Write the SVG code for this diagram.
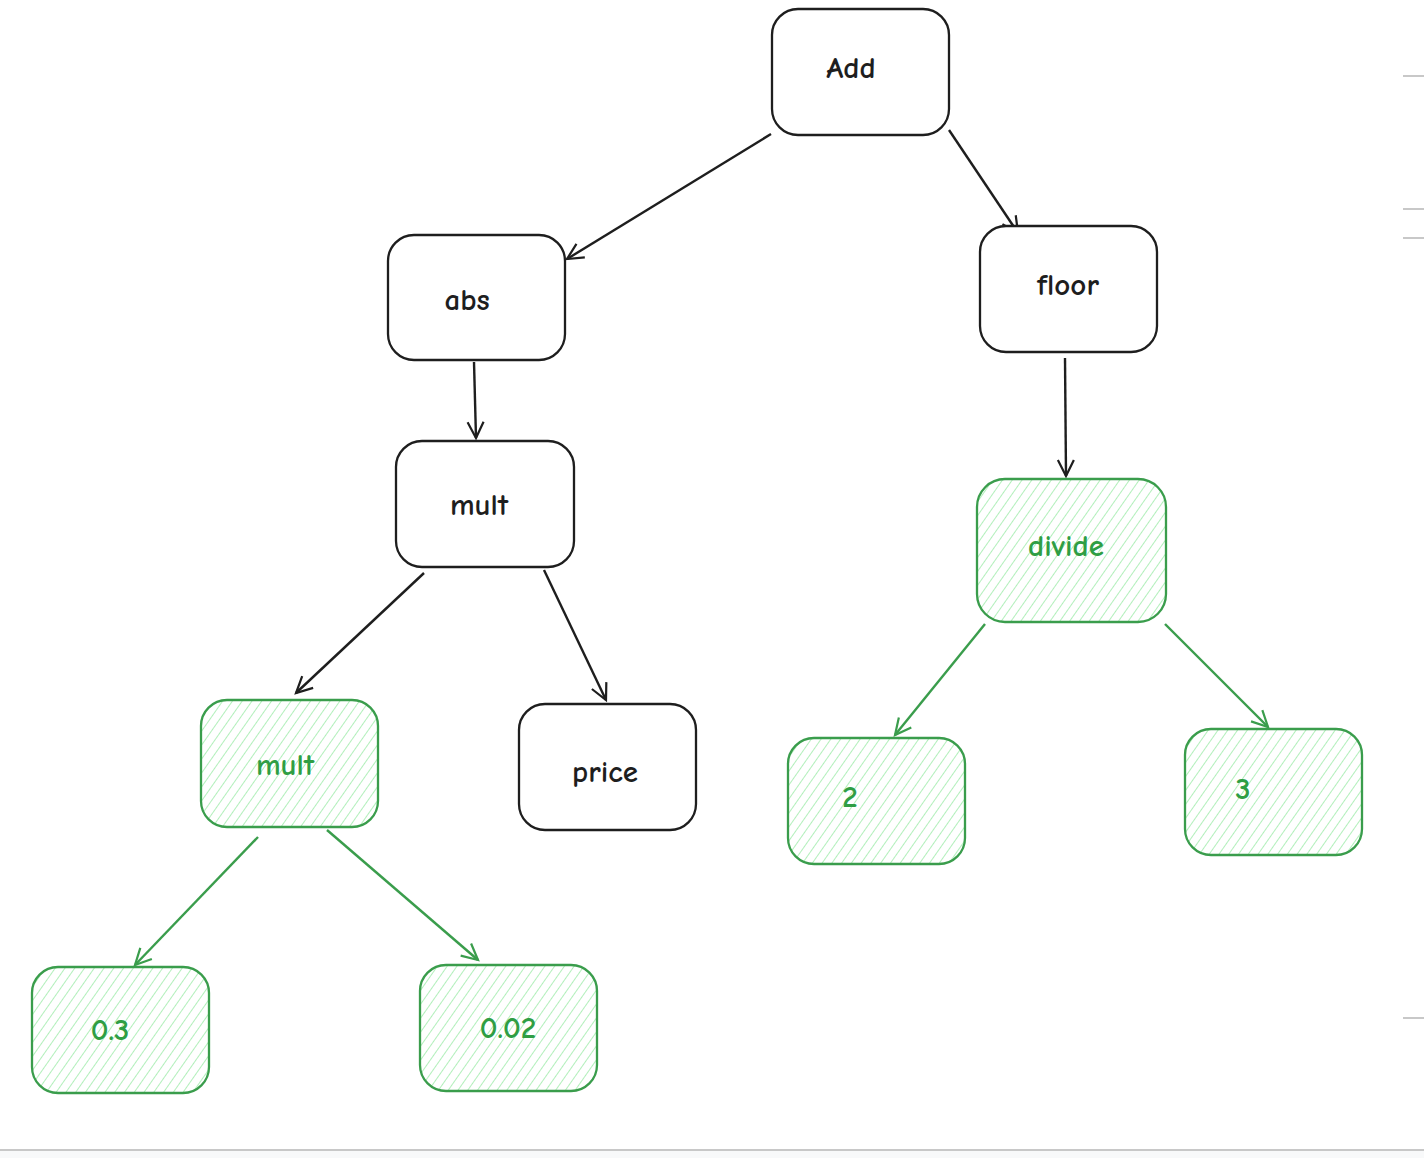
<svg xmlns="http://www.w3.org/2000/svg" width="1424" height="1158" viewBox="0 0 1424 1158">
<style>
.box{fill:#fff;stroke:#1e1e1e;stroke-width:2.3}
.gbox{fill:url(#hatch);stroke:#3a9d4c;stroke-width:2.3}
.t{font-family:"Comic Neue","Noto Sans","Liberation Sans",sans-serif;font-size:31px;font-weight:700;text-anchor:middle;dominant-baseline:central;fill:#1e1e1e}
.gt{fill:#2f9e44}
.c{fill:none;stroke:#1e1e1e;stroke-width:2.4;marker-end:url(#ah)}
.gc{fill:none;stroke:#3a9d4c;stroke-width:2.4;marker-end:url(#gah)}
.edge{stroke:#c8c8c8;stroke-width:2}
</style>
<defs>
<pattern id="hatch" patternUnits="userSpaceOnUse" width="8" height="8" patternTransform="rotate(35)">
<rect width="8" height="8" fill="#fff"/>
<line x1="0" y1="0" x2="0" y2="8" stroke="#a9eeb3" stroke-width="1.8"/>
</pattern>
<marker id="ah" markerWidth="24" markerHeight="24" refX="20" refY="12" orient="auto" markerUnits="userSpaceOnUse">
<path d="M4,4 L20,12 L4,20" fill="none" stroke="#1e1e1e" stroke-width="2.2"/>
</marker>
<marker id="gah" markerWidth="24" markerHeight="24" refX="20" refY="12" orient="auto" markerUnits="userSpaceOnUse">
<path d="M4,4 L20,12 L4,20" fill="none" stroke="#3a9d4c" stroke-width="2.2"/>
</marker>
</defs>
<rect width="1424" height="1158" fill="#fff"/>
<rect x="0" y="1151" width="1424" height="7" fill="#f8f9fa"/>
<line class="edge" x1="0" y1="1150" x2="1424" y2="1150"/>
<line class="edge" x1="1403" y1="76" x2="1424" y2="76"/>
<line class="edge" x1="1403" y1="209" x2="1424" y2="209"/>
<line class="edge" x1="1403" y1="238" x2="1424" y2="238" stroke="#dcdcdc"/>
<line class="edge" x1="1403" y1="1018" x2="1424" y2="1018"/>
<g id="connectors">
<line class="c" x1="771" y1="134" x2="567" y2="259"/>
<line class="c" x1="949" y1="130" x2="1018" y2="233"/>
<line class="c" x1="474" y1="362" x2="476" y2="438"/>
<line class="c" x1="1065" y1="358" x2="1066" y2="476"/>
<line class="c" x1="424" y1="573" x2="296" y2="693"/>
<line class="c" x1="544" y1="570" x2="606" y2="700"/>
<line class="gc" x1="985" y1="624" x2="895" y2="735"/>
<line class="gc" x1="1165" y1="624" x2="1268" y2="727"/>
<line class="gc" x1="258" y1="837" x2="135" y2="965"/>
<line class="gc" x1="327" y1="830" x2="478" y2="960"/>
</g>
<g id="n-add"><rect class="box" x="772" y="9" width="177" height="126" rx="26"/><text class="t" x="851" y="68">Add</text></g>
<g id="n-abs"><rect class="box" x="388" y="235" width="177" height="125" rx="26"/><text class="t" x="467" y="300">abs</text></g>
<g id="n-floor"><rect class="box" x="980" y="226" width="177" height="126" rx="26"/><text class="t" x="1068" y="285">floor</text></g>
<g id="n-mult"><rect class="box" x="396" y="441" width="178" height="126" rx="26"/><text class="t" x="479" y="505">mult</text></g>
<g id="n-divide"><rect class="gbox" x="977" y="479" width="189" height="143" rx="28"/><text class="t gt" x="1066" y="546">divide</text></g>
<g id="n-mult2"><rect class="gbox" x="201" y="700" width="177" height="127" rx="26"/><text class="t gt" x="285" y="765">mult</text></g>
<g id="n-price"><rect class="box" x="519" y="704" width="177" height="126" rx="26"/><text class="t" x="605" y="772">price</text></g>
<g id="n-2"><rect class="gbox" x="788" y="738" width="177" height="126" rx="26"/><text class="t gt" x="850" y="797">2</text></g>
<g id="n-3"><rect class="gbox" x="1185" y="729" width="177" height="126" rx="26"/><text class="t gt" x="1243" y="789">3</text></g>
<g id="n-03"><rect class="gbox" x="32" y="967" width="177" height="126" rx="26"/><text class="t gt" x="110" y="1030">0.3</text></g>
<g id="n-002"><rect class="gbox" x="420" y="965" width="177" height="126" rx="26"/><text class="t gt" x="508" y="1028">0.02</text></g>
</svg>
